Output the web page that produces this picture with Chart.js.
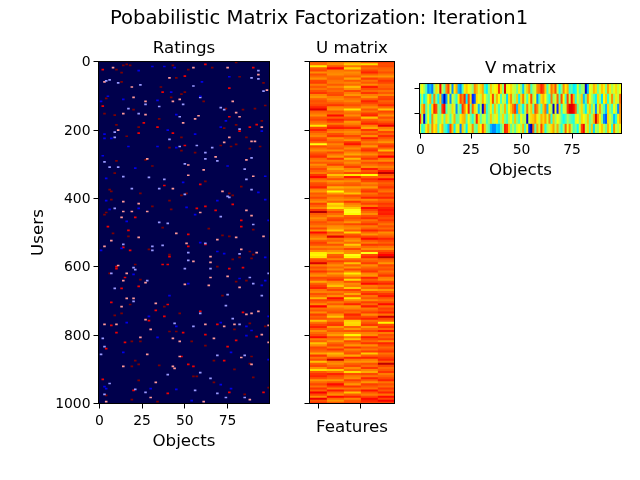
<!DOCTYPE html>
<html>
<head>
<meta charset="utf-8">
<script src="https://cdn.jsdelivr.net/npm/chart.js@4"></script>
<style>
body { margin: 0; background: #fff; }
canvas { position: absolute; left: 0; top: 0; }
</style>
</head>
<body>
<canvas id="ratings" width="640" height="480"></canvas>
<canvas id="umatrix" width="640" height="480"></canvas>
<canvas id="vmatrix" width="640" height="480"></canvas>
<canvas id="suptitle" width="640" height="480"></canvas>
<script>
const objectTicks = [0, 25, 50, 75];
const userTicks = [0, 200, 400, 600, 800, 1000];
const featureTicks = [0, 2.5];
const vRowTicks = [0, 2.5];

// ratings as [user, object], one list per rating level
const rating1 = [[26,23],[14,31],[14,38],[17,44],[59,60],[44,76],[101,5],[110,14],[113,34],[89,42],[101,59],[155,45],[116,1],[173,74],[191,71],[212,3],[224,3],[224,7],[203,95],[248,17],[248,34],[251,45],[200,40],[311,21],[275,2],[305,75],[335,97],[212,56],
  [341,4],[353,49],[382,93],[406,4],[406,69],[403,97],[429,23],[432,6],[426,51],[447,56],[467,16],[464,99],[529,59],[552,1],[546,13],[555,69],[561,73],[572,97],[622,20],[634,82],[640,97],[649,52],[654,95],
  [763,16],[745,29],[774,45],[763,71],[745,99],[774,86],[786,89],[801,86],[806,34],[850,14],[850,77],[950,3],[956,4],[956,30],[958,45],[944,71],[956,77],[991,54],[871,99],[684,41]];
const rating2 = [[53,6],[56,4],[62,11],[68,24],[71,55],[206,9],[221,9],[125,27],[137,17],[152,23],[125,49],[131,35],[134,71],[140,73],[161,47],[104,59],[86,96],[47,89],[26,93],[50,93],[197,82],[227,41],[245,57],[251,66],[248,47],[266,62],[284,62],[290,69],[281,89],[308,6],[308,11],[293,3],[314,85],[299,50],[338,29],
  [336,14],[344,38],[371,35],[371,19],[374,89],[388,50],[394,75],[397,76],[429,9],[453,71],[470,35],[473,40],[476,90],[562,82],[534,14],[540,31],[552,31],[537,37],[531,62],[558,52],[581,52],[605,50],[605,65],[602,20],[608,21],[619,7],[640,28],[631,88],[619,99],[649,90],[663,9],[344,86],
  [701,20],[713,74],[681,75],[684,95],[736,59],[765,44],[751,78],[768,82],[774,55],[809,2],[833,3],[856,1],[859,69],[859,85],[909,59],[915,40],[926,65],[941,6],[967,27],[973,3],[970,69],[958,21],[961,56],[982,85],[982,74]];
const rating3 = [[17,8],[17,55],[17,75],[59,3],[74,19],[47,41],[38,93],[104,20],[116,27],[110,47],[116,43],[152,14],[155,27],[158,58],[149,80],[161,82],[179,49],[167,56],[200,11],[191,95],[221,76],[233,89],[236,73],[233,91],[287,86],[278,68],[284,28],[302,52],[332,52],[316,61],[335,90],[83,98],[116,78],
  [409,14],[415,23],[438,14],[438,19],[438,28],[441,59],[435,86],[450,89],[455,13],[502,45],[514,23],[523,7],[540,3],[531,51],[520,69],[514,80],[511,96],[549,83],[558,92],[570,65],[587,65],[584,55],[596,11],[619,16],[640,14],[631,65],[628,75],[646,27],[651,50],[654,64],[660,82],[371,43],[379,72],
  [692,16],[692,20],[716,13],[707,33],[754,27],[768,3],[768,10],[783,30],[768,62],[768,79],[774,73],[739,86],[736,89],[730,93],[798,95],[771,99],[806,24],[809,43],[818,47],[809,67],[821,99],[856,28],[862,47],[891,14],[891,43],[897,44],[885,89],[938,33],[865,83],[982,30],[988,88],[994,61],[994,4]];
const rating4 = [[23,2],[42,50],[89,37],[77,76],[130,2],[179,26],[191,34],[191,88],[184,92],[209,23],[203,82],[209,43],[245,50],[17,90],[8,62],[161,76],
  [362,38],[359,59],[417,78],[423,62],[429,57],[435,68],[455,21],[464,83],[482,83],[482,5],[493,17],[505,52],[543,14],[534,62],[540,52],[570,41],[593,37],[593,40],[605,10],[599,10],[605,76],[657,23],[663,13],[631,15],[552,18],[602,84],
  [704,7],[710,40],[727,33],[745,38],[730,59],[733,84],[768,69],[771,7],[792,10],[798,62],[792,49],[804,92],[815,80],[821,15],[833,75],[839,4],[862,48],[874,73],[885,52],[891,55],[929,2],[961,20],[970,40],[967,96],[967,76],[757,29]];
const rating5 = [[8,16],[11,14],[11,18],[23,10],[32,13],[11,43],[23,52],[17,66],[44,82],[47,45],[59,13],[95,48],[89,50],[104,42],[116,61],[156,9],[152,3],[140,20],[167,35],[191,23],[185,10],[173,95],[194,73],[137,91],[185,80],[218,16],[221,48],[251,41],[260,48],[242,80],[221,86],[245,71],[248,77],[248,94],[254,88],[287,27],[305,31],[290,10],[326,9],[2,80],[62,96],[128,97],[137,74],[140,84],[107,4],[266,56],[74,36],
  [350,62],[365,83],[374,6],[379,7],[385,24],[391,48],[385,51],[385,76],[391,78],[403,7],[423,31],[406,41],[432,42],[441,4],[447,3],[485,37],[488,64],[491,90],[508,72],[511,76],[511,17],[502,8],[555,88],[564,90],[564,41],[578,78],[575,89],[572,82],[593,21],[599,69],[637,24],[643,80],[640,86],[619,6],[549,29],
  [716,38],[736,47],[736,13],[742,9],[710,18],[765,88],[774,97],[783,79],[789,41],[789,45],[818,54],[818,19],[818,24],[830,62],[874,21],[874,67],[885,23],[891,19],[888,35],[900,79],[883,88],[862,89],[923,90],[920,55],[920,57],[932,23],[938,67],[976,4],[988,19],[994,34],[973,85],[953,99],[684,72]];

// U matrix, estimated per band of 6 users, 0-100 scale
const uRowSize = 6;
const uFeature0 = [50,52,82,48,44,60,46,52,60,44,42,56,48,54,46,40,58,62,50,46,
  48,44,36,22,50,54,60,48,44,52,56,80,44,36,48,54,58,46,42,52,
  88,46,54,60,50,44,38,52,56,48,60,52,44,50,56,40,30,52,58,46,
  44,36,56,62,48,52,44,54,60,42,50,58,40,12,48,52,60,54,46,50,
  56,44,60,30,48,54,62,50,42,46,58,50,60,82,84,80,48,44,20,56,
  46,52,40,54,60,44,48,66,50,42,36,54,58,46,52,70,44,50,60,28,
  54,48,60,42,50,46,72,54,44,36,48,60,52,46,30,56,50,72,60,44,
  48,52,66,40,54,46,72,50,44,60,78,48,40,36,46,62,52,44,54,40,
  50,26,44,60,24,48,40];
const uFeature1 = [56,60,48,30,56,58,60,52,50,54,56,48,58,50,52,46,44,56,60,54,
  48,40,58,62,48,52,30,50,36,44,56,42,34,52,58,46,40,60,54,48,
  58,52,48,60,44,54,62,40,56,50,42,60,66,56,52,72,58,46,62,54,
  48,68,58,86,62,50,56,60,50,78,72,80,56,44,52,60,46,42,54,50,
  60,62,74,48,56,22,54,50,60,46,58,52,62,72,50,46,58,42,52,60,
  52,60,48,64,54,46,40,58,62,72,52,44,56,50,60,30,42,56,48,62,
  54,50,46,60,72,50,56,44,40,62,52,48,58,64,46,54,62,50,44,56,
  40,52,70,62,48,18,56,60,52,46,74,54,36,46,50,62,48,30,42,56,
  34,52,60,30,52,62,48];
const uFeature2 = [60,74,54,76,52,60,56,50,64,48,58,52,70,60,44,56,62,48,54,58,
  50,46,54,80,56,52,60,48,42,62,58,50,36,54,60,56,44,52,62,40,
  32,52,60,50,58,66,48,70,54,60,52,42,58,62,44,80,34,52,60,50,
  48,64,56,58,72,46,52,60,40,56,62,74,88,90,85,50,46,52,62,44,
  56,60,50,76,48,42,56,62,52,74,60,44,58,60,88,84,52,46,72,50,
  62,44,58,82,64,50,78,46,60,56,74,42,52,66,48,80,60,50,36,62,
  58,48,52,36,44,40,74,78,76,50,62,46,60,84,56,72,44,52,62,40,
  58,50,46,66,36,54,62,50,44,60,52,78,46,56,60,42,52,62,40,54,
  44,72,50,36,58,48,44];
const uFeature3 = [50,78,46,52,44,36,50,62,42,54,48,60,34,46,52,40,56,62,48,36,
  44,52,60,48,54,42,36,72,50,44,36,56,66,40,52,46,60,34,48,56,
  50,62,44,38,52,60,48,40,56,46,52,60,34,48,42,86,50,38,44,58,
  52,62,46,40,54,48,36,60,50,42,56,30,44,52,60,46,38,54,48,40,
  56,50,36,52,62,44,30,48,56,40,52,60,48,90,44,36,54,50,42,60,
  52,46,40,58,62,36,50,44,30,56,52,66,46,38,54,48,60,42,52,34,
  56,50,42,60,46,36,54,48,40,62,52,44,56,60,34,46,52,40,60,48,
  54,42,74,50,36,56,62,46,52,40,58,66,44,54,36,50,62,42,48,54,
  32,48,56,44,30,36,42];
const uFeature4 = [42,46,44,50,52,46,54,62,48,40,44,52,50,46,54,48,58,44,42,50,
  46,38,52,72,44,50,60,46,54,48,40,24,56,62,44,50,38,48,54,62,
  46,40,52,70,44,50,28,54,60,42,48,56,50,34,14,46,52,28,44,50,
  46,40,50,54,42,46,36,52,48,40,44,36,32,36,34,42,46,40,48,54,
  46,52,42,60,54,48,36,44,50,42,54,60,46,38,28,12,48,52,62,44,
  50,46,54,48,40,56,60,44,36,52,46,62,50,40,34,48,54,46,30,52,
  42,46,36,54,18,44,50,84,46,40,52,34,56,46,50,42,60,36,44,52,
  46,40,54,48,42,36,50,14,44,52,48,40,56,50,44,36,54,46,52,40,
  48,36,54,30,44,26,42];

// V matrix, one row per feature, 0-100 scale
const vRow0 = [60,66,58,48,30,35,28,55,70,62,92,60,50,78,85,62,30,68,75,35,30,48,68,72,66,62,55,78,74,62,70,75,48,40,56,72,62,66,68,86,70,55,94,64,66,70,62,60,52,68,55,36,60,72,78,48,58,62,78,80,88,84,72,48,62,80,74,84,60,42,55,78,68,74,45,50,40,42,62,48,56,58,12,35,65,62,74,70,52,62,72,68,54,76,68,58,64,70,60,66];
const vRow1 = [45,60,40,50,66,74,45,78,55,40,72,30,10,32,66,30,62,55,45,68,84,78,88,40,84,70,20,25,70,65,60,74,66,55,50,68,85,60,74,66,48,62,58,38,70,78,60,55,72,40,70,80,62,48,68,84,58,66,30,48,70,74,66,52,45,80,56,62,82,50,84,66,48,85,60,90,74,45,62,55,72,35,50,78,66,58,50,40,70,58,38,66,72,45,62,78,56,68,60,82];
const vRow2 = [55,72,80,50,62,45,70,88,84,55,50,86,92,48,60,55,70,62,30,56,45,86,78,66,88,50,82,70,62,35,58,12,80,45,55,68,50,72,60,48,62,58,74,50,66,72,80,86,35,72,55,40,58,80,62,72,50,84,78,60,48,72,80,35,68,58,10,66,20,70,45,62,60,86,95,95,92,82,50,60,70,55,40,60,72,50,62,30,62,76,58,50,35,70,56,48,66,58,30,78];
const vRow3 = [88,60,12,50,66,45,78,60,68,52,55,68,50,70,60,48,62,74,50,52,68,72,74,50,66,54,45,58,88,70,50,60,62,48,55,72,58,62,68,50,58,70,54,48,60,66,52,72,55,48,66,58,60,12,62,70,72,76,68,60,74,70,76,62,78,45,72,56,66,60,50,42,48,58,52,48,44,62,66,55,70,66,60,72,52,58,74,96,78,68,55,30,25,70,62,55,35,45,68,76];
const vRow4 = [62,45,50,68,75,56,78,68,72,48,66,74,50,45,35,84,72,40,62,68,30,72,58,40,68,62,78,54,50,70,66,84,72,55,50,35,30,30,38,36,50,58,88,86,72,52,60,50,62,66,58,74,46,68,20,8,82,50,75,62,85,72,45,58,62,70,76,60,75,55,45,58,82,64,78,60,48,54,42,62,85,92,60,70,50,72,38,60,55,66,72,60,52,74,66,45,78,62,58,68];

function clamp01(v) {
    return Math.max(0, Math.min(1, v));
}

function hotColor(value) {
    const t = 0.18 + 0.66 * value / 100;
    const r = clamp01(t / 0.365), g = clamp01((t - 0.365) / 0.381), b = clamp01((t - 0.746) / 0.254);
    return `rgb(${Math.round(r * 255)}, ${Math.round(g * 255)}, ${Math.round(b * 255)})`;
}

function jetColor(value) {
    const t = (value - 4) / 100;
    const r = clamp01(Math.min(4 * t - 1.5, -4 * t + 4.5));
    const g = clamp01(Math.min(4 * t - 0.5, -4 * t + 3.5));
    const b = clamp01(Math.min(4 * t + 0.5, -4 * t + 2.5));
    return `rgb(${Math.round(r * 255)}, ${Math.round(g * 255)}, ${Math.round(b * 255)})`;
}

const frameAndBackground = {
    id: 'frameAndBackground',
    beforeDatasetsDraw(chart, args, opts) {
        const a = chart.chartArea, ctx = chart.ctx;
        ctx.save();
        ctx.fillStyle = opts.color;
        ctx.fillRect(a.left, a.top, a.right - a.left, a.bottom - a.top);
        ctx.restore();
    },
    afterDraw(chart) {
        const a = chart.chartArea, ctx = chart.ctx;
        ctx.save();
        ctx.strokeStyle = '#000';
        ctx.lineWidth = 1;
        ctx.strokeRect(a.left, a.top, a.right - a.left, a.bottom - a.top);
        ctx.restore();
    }
};

function axis(cfg) {
    return {
        type: 'linear',
        reverse: !!cfg.reverse,
        min: cfg.min,
        max: cfg.max,
        offset: false,
        border: { display: false },
        grid: { offset: false, drawOnChartArea: false, drawTicks: true, tickLength: 5, tickColor: '#000', tickWidth: 1 },
        afterBuildTicks: scale => { scale.ticks = cfg.ticks.map(v => ({ value: v })); },
        afterFit: scale => {
            if (scale.isHorizontal()) scale.height = cfg.size; else scale.width = cfg.size;
        },
        ticks: {
            display: true,
            autoSkip: false,
            maxRotation: 0,
            color: '#000',
            padding: cfg.tickPadding === undefined ? 4 : cfg.tickPadding,
            labelOffset: cfg.labelOffset || 0,
            font: { family: 'DejaVu Sans', size: 13.9 },
            callback: v => cfg.showLabels ? String(v) : ''
        },
        title: {
            display: !!cfg.label,
            text: cfg.label,
            color: '#000',
            padding: 0,
            font: { family: 'DejaVu Sans', size: 16.7 }
        }
    };
}

function makeChart(id, cfg) {
    return new Chart(document.getElementById(id), {
        type: 'bar',
        data: { datasets: cfg.datasets },
        plugins: [frameAndBackground],
        options: {
            responsive: false,
            animation: false,
            layout: { padding: cfg.padding },
            scales: { x: cfg.x, y: cfg.y },
            plugins: {
                legend: { display: false },
                tooltip: { enabled: false },
                frameAndBackground: { color: cfg.background },
                title: cfg.title
            }
        }
    });
}

function panelTitle(text, top, bottom) {
    return {
        display: true,
        text: text,
        fullSize: false,
        color: '#000',
        padding: { top: top, bottom: bottom },
        font: { family: 'DejaVu Sans', size: 16.7, weight: 'normal', lineHeight: 1.2 }
    };
}

function ratingDataset(points, color) {
    return {
        grouped: false,
        barPercentage: 1.5,
        categoryPercentage: 1,
        backgroundColor: color,
        data: points.map(p => ({ x: p[1], y: [p[0] - 2.5, p[0] + 2.5] }))
    };
}

makeChart('ratings', {
    background: 'rgb(0, 0, 76)',
    padding: { left: 29, right: 370.5, top: 0, bottom: 28 },
    title: panelTitle('Ratings', 39, 2.5),
    x: axis({ min: -0.5, max: 99.5, ticks: objectTicks, showLabels: true, label: 'Objects', size: 48.5, tickPadding: 5 }),
    y: axis({ reverse: true, min: -0.5, max: 999.5, ticks: userTicks, showLabels: true, label: 'Users', size: 69.5, tickPadding: 3, labelOffset: 1 }),
    datasets: [
        ratingDataset(rating1, 'rgb(0, 0, 235)'),
        ratingDataset(rating2, 'rgb(153, 153, 255)'),
        ratingDataset(rating3, 'rgb(255, 153, 153)'),
        ratingDataset(rating4, 'rgb(240, 0, 0)'),
        ratingDataset(rating5, 'rgb(127, 0, 0)')
    ]
});

function uDataset(values, feature) {
    return {
        grouped: false,
        barPercentage: 1,
        categoryPercentage: 1,
        backgroundColor: values.map(hotColor),
        data: values.map((v, i) => ({ x: feature, y: [i * uRowSize - 0.5, (i + 1) * uRowSize - 0.5] }))
    };
}

makeChart('umatrix', {
    background: 'rgb(255, 100, 0)',
    padding: { left: 299.5, right: 245.5, top: 0, bottom: 42 },
    title: panelTitle('U matrix', 39, 2.5),
    x: axis({ min: -0.5, max: 4.5, ticks: featureTicks, showLabels: false, label: 'Features', size: 34.5 }),
    y: axis({ reverse: true, min: -0.5, max: 999.5, ticks: userTicks, showLabels: false, size: 10 }),
    datasets: [uFeature0, uFeature1, uFeature2, uFeature3, uFeature4].map(uDataset)
});

function vDataset(values, row) {
    return {
        grouped: false,
        barPercentage: 1,
        categoryPercentage: 1,
        backgroundColor: values.map(jetColor),
        data: values.map((v, i) => ({ x: i, y: [row - 0.5, row + 0.5] }))
    };
}

makeChart('vmatrix', {
    background: 'rgb(128, 255, 128)',
    padding: { left: 409.5, right: 18.5, top: 0, bottom: 299 },
    title: panelTitle('V matrix', 59, 4.5),
    x: axis({ min: -0.5, max: 99.5, ticks: objectTicks, showLabels: true, label: 'Objects', size: 47.5 }),
    y: axis({ reverse: true, min: -0.5, max: 4.5, ticks: vRowTicks, showLabels: false, size: 10 }),
    datasets: [vRow0, vRow1, vRow2, vRow3, vRow4].map(vDataset)
});

// empty chart that only carries the figure title across the whole window
new Chart(document.getElementById('suptitle'), {
    type: 'bar',
    data: { datasets: [] },
    options: {
        responsive: false,
        animation: false,
        layout: { padding: { right: 2 } },
        scales: { x: { display: false }, y: { display: false } },
        plugins: {
            legend: { display: false },
            tooltip: { enabled: false },
            title: {
                display: true,
                text: 'Pobabilistic Matrix Factorization: Iteration1',
                color: '#000',
                padding: { top: 7.3, bottom: 0 },
                font: { family: 'DejaVu Sans', size: 19.6, weight: 'normal', lineHeight: 1.2 }
            }
        }
    }
});
</script>
</body>
</html>
